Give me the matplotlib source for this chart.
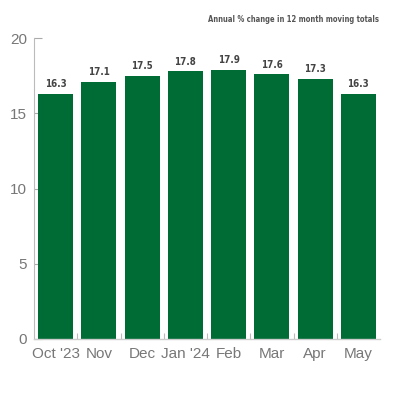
import matplotlib
matplotlib.use('Agg')
import matplotlib.pyplot as plt
import numpy as np

months = ["Oct '23", "Nov", "Dec", "Jan '24", "Feb", "Mar", "Apr", "May"]
values = [16.3, 17.1, 17.5, 17.8, 17.9, 17.6, 17.3, 16.3]
yticks = [0, 5, 10, 15, 20]
title = "Annual % change in 12 month moving totals"

green = "#006c35"

fig = plt.figure(figsize=(4, 4), dpi=100)
ax = fig.add_axes([0.085, 0.1525, 0.865, 0.7525])
x = np.arange(len(months))
ax.bar(x, values, width=0.81, color=green, zorder=2)
for xi, v in zip(x, values):
    ax.text(xi, v + 0.3, f"{v:.1f}", ha="center", va="bottom", fontsize=7,
            fontweight="bold", fontstretch="condensed", color="#444444",
            family="DejaVu Sans")

ax.set_xlim(-0.5, len(months) - 0.5)
ax.set_ylim(0, 20)
ax.set_yticks(yticks)
ax.set_yticklabels([str(t) for t in yticks], family="Liberation Sans")
ax.set_xticks(x)
ax.set_xticklabels(months, family="Liberation Sans")
ax.set_xticks(x[:-1] + 0.5, minor=True)

ax.tick_params(axis="y", direction="in", length=6, width=0.8, color="#aaaaaa",
               labelsize=11, labelcolor="#777777", pad=5)
ax.tick_params(axis="x", which="major", length=0, labelsize=11,
               labelcolor="#777777", pad=5.5)
ax.tick_params(axis="x", which="minor", direction="in", length=4.5,
               width=0.8, color="#bbbbbb")

for s in ["top", "right"]:
    ax.spines[s].set_visible(False)
ax.spines["left"].set_color("#bbbbbb")
ax.spines["bottom"].set_color("#cccccc")
ax.spines["left"].set_linewidth(0.8)
ax.spines["bottom"].set_linewidth(1.0)

fig.text(0.948, 0.952, title, ha="right", va="center", fontsize=5.5,
         fontweight="bold", fontstretch="condensed", color="#555555",
         family="DejaVu Sans")

fig.savefig("out.png", dpi=100, facecolor="white")
